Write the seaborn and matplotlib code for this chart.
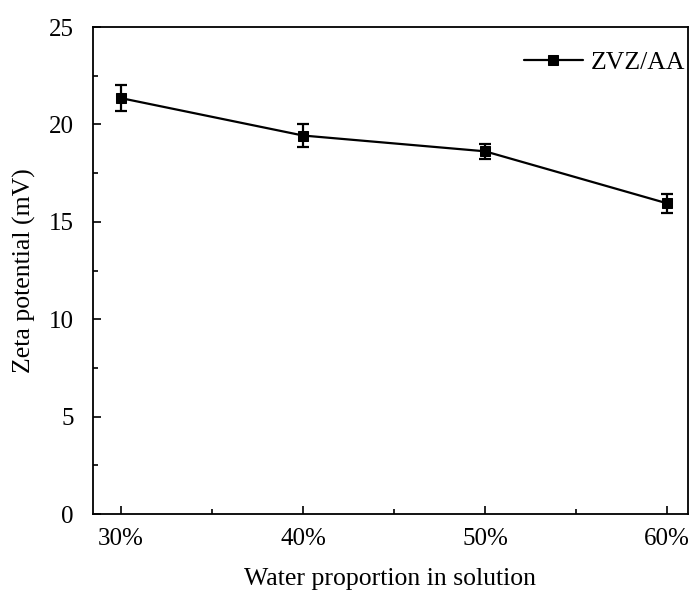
import matplotlib
matplotlib.use("Agg")
import matplotlib.pyplot as plt
import seaborn as sns
import pandas as pd
from matplotlib.ticker import MultipleLocator

categories = ["30%", "40%", "50%", "60%"]
x_vals = [30, 40, 50, 60]
zeta = [21.35, 19.43, 18.62, 15.95]
err = [0.68, 0.58, 0.40, 0.50]

df = pd.DataFrame({"x": x_vals, "zeta": zeta, "err": err})

sns.set_style("ticks")
plt.rcParams['font.family'] = ['Liberation Serif', 'DejaVu Serif']
plt.rcParams['mathtext.fontset'] = 'stix'
plt.rcParams['text.color'] = 'black'
plt.rcParams['axes.labelcolor'] = 'black'
plt.rcParams['xtick.color'] = 'black'
plt.rcParams['ytick.color'] = 'black'

fig = plt.figure(figsize=(6.97, 5.9), dpi=100)
ax = fig.add_axes([0.1334, 0.1288, 0.8536, 0.8254])

ax.errorbar(df["x"], df["zeta"], yerr=df["err"], fmt="none", ecolor="black",
            elinewidth=1.6, capsize=4, capthick=1.6, zorder=3)
sns.lineplot(data=df, x="x", y="zeta", ax=ax, color="black", marker="s",
             markersize=6.5, markeredgecolor="black", linewidth=1.6,
             label="ZVZ/AA", zorder=4)

ax.set_xlim(28.46, 61.15)
ax.set_ylim(0, 25)
ax.set_xticks(x_vals)
ax.set_xticklabels(categories)
ax.xaxis.set_minor_locator(MultipleLocator(5))
ax.yaxis.set_major_locator(MultipleLocator(5))
ax.yaxis.set_minor_locator(MultipleLocator(2.5))
ax.tick_params(axis="both", which="major", direction="in", length=6, width=1.2,
               labelsize=18, colors="black")
ax.tick_params(axis="x", which="major", pad=10)
ax.tick_params(axis="y", which="major", pad=14)
ax.tick_params(axis="both", which="minor", direction="in", length=3.5, width=1.2)
for s in ax.spines.values():
    s.set_linewidth(1.3)
    s.set_color("black")

ax.set_xlabel("Water proportion in solution", fontsize=18.5, labelpad=13)
ax.set_ylabel("Zeta potential (mV)", fontsize=18.5, labelpad=9)

leg = ax.legend(loc="upper right", bbox_to_anchor=(1.025, 0.988), frameon=False,
                fontsize=18.5, handlelength=2.3, handletextpad=0.3, borderaxespad=0.3)

fig.savefig("out.png", dpi=100)
